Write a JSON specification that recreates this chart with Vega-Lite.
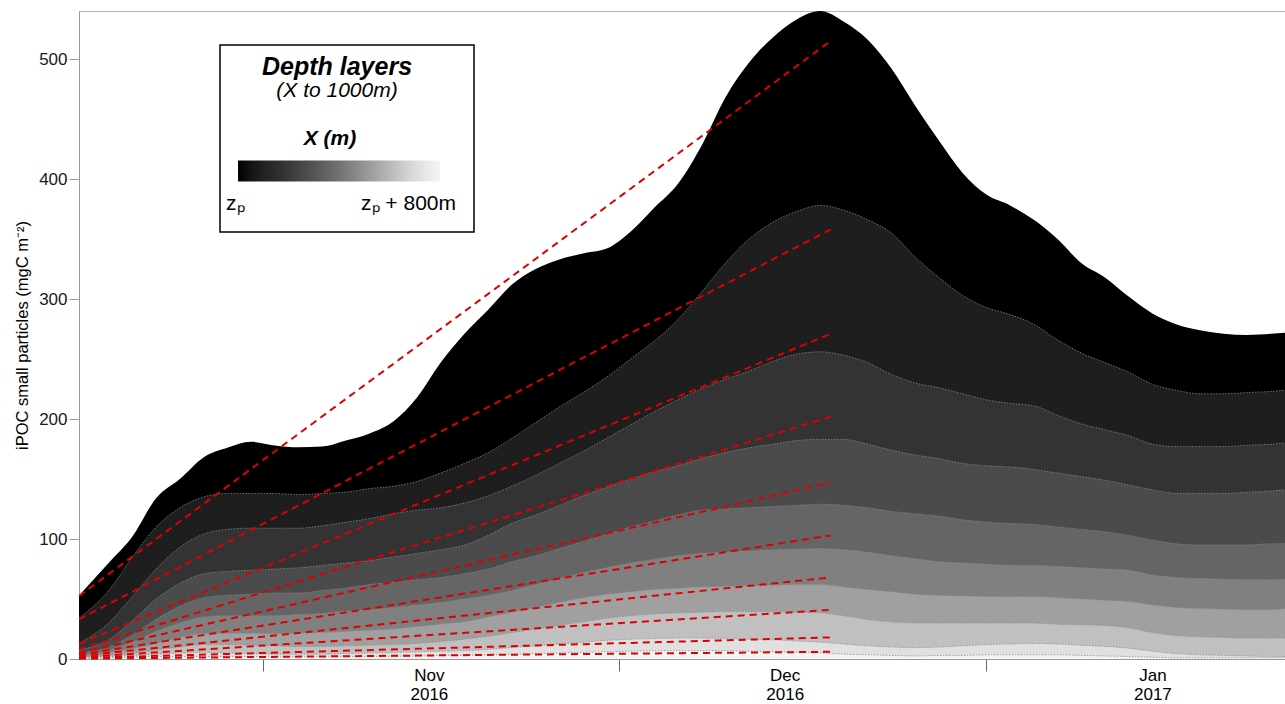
{
"$schema": "https://vega.github.io/schema/vega-lite/v6.json",
"width": 1212, "height": 648,
"autosize": {"type": "none"},
"padding": {"left": 79, "top": 11, "right": 0, "bottom": 45},
"background": "white",
"title": {"text": "Depth layers", "subtitle": "(X to 1000m)", "frame": "group", "anchor": "start", "align": "center", "dx": 258, "dy": 90, "offset": 0, "font": "Liberation Sans", "fontSize": 25, "fontStyle": "italic", "fontWeight": "bold", "color": "black", "subtitleFont": "Liberation Sans", "subtitleFontSize": 21, "subtitleFontStyle": "italic", "subtitleColor": "black", "subtitlePadding": 0},
"config": {"view": {"stroke": "#b5b5b5"}, "axis": {"grid": false, "labelFont": "Liberation Sans", "titleFont": "Liberation Sans"}, "legend": {"labelFont": "Liberation Sans", "titleFont": "Liberation Sans"}},
"datasets": {
"fits": [
{"t":"2016/10/16 12:00","r":1,"v":52.5},{"t":"2016/12/18 21:00","r":1,"v":515},
{"t":"2016/10/16 12:00","r":2,"v":33},{"t":"2016/12/18 21:00","r":2,"v":358},
{"t":"2016/10/16 12:00","r":3,"v":12.8},{"t":"2016/12/18 21:00","r":3,"v":271},
{"t":"2016/10/16 12:00","r":4,"v":8},{"t":"2016/12/18 21:00","r":4,"v":202},
{"t":"2016/10/16 12:00","r":5,"v":5},{"t":"2016/12/18 21:00","r":5,"v":147},
{"t":"2016/10/16 12:00","r":6,"v":3.5},{"t":"2016/12/18 21:00","r":6,"v":103},
{"t":"2016/10/16 12:00","r":7,"v":2.5},{"t":"2016/12/18 21:00","r":7,"v":68},
{"t":"2016/10/16 12:00","r":8,"v":1.5},{"t":"2016/12/18 21:00","r":8,"v":41},
{"t":"2016/10/16 12:00","r":9,"v":0.8},{"t":"2016/12/18 21:00","r":9,"v":18},
{"t":"2016/10/16 12:00","r":10,"v":0.3},{"t":"2016/12/18 21:00","r":10,"v":6}
],
"layers": [
{"t":"2016/10/16 12:00","z":0,"v":53},{"t":"2016/10/19","z":0,"v":80},{"t":"2016/10/21","z":0,"v":102},{"t":"2016/10/23","z":0,"v":134},{"t":"2016/10/25","z":0,"v":150},{"t":"2016/10/27","z":0,"v":168},{"t":"2016/10/29","z":0,"v":176},{"t":"2016/10/31","z":0,"v":181},{"t":"2016/11/02","z":0,"v":178},{"t":"2016/11/04","z":0,"v":176.5},{"t":"2016/11/06","z":0,"v":177},{"t":"2016/11/08","z":0,"v":182},{"t":"2016/11/10","z":0,"v":188},{"t":"2016/11/12","z":0,"v":198},{"t":"2016/11/14","z":0,"v":218},{"t":"2016/11/16","z":0,"v":247},{"t":"2016/11/18","z":0,"v":271},{"t":"2016/11/20","z":0,"v":291},{"t":"2016/11/22","z":0,"v":312},{"t":"2016/11/24","z":0,"v":325},{"t":"2016/11/26","z":0,"v":333},{"t":"2016/11/28","z":0,"v":338},{"t":"2016/11/30","z":0,"v":342},{"t":"2016/12/02","z":0,"v":356},{"t":"2016/12/04","z":0,"v":376},{"t":"2016/12/06","z":0,"v":396},{"t":"2016/12/08","z":0,"v":428},{"t":"2016/12/10","z":0,"v":468},{"t":"2016/12/12","z":0,"v":497},{"t":"2016/12/14","z":0,"v":518},{"t":"2016/12/16","z":0,"v":533},{"t":"2016/12/18","z":0,"v":540},{"t":"2016/12/20","z":0,"v":531},{"t":"2016/12/22","z":0,"v":516},{"t":"2016/12/24","z":0,"v":492},{"t":"2016/12/26","z":0,"v":461},{"t":"2016/12/28","z":0,"v":432},{"t":"2016/12/30","z":0,"v":405},{"t":"2017/01/01","z":0,"v":387},{"t":"2017/01/03","z":0,"v":378},{"t":"2017/01/05","z":0,"v":366},{"t":"2017/01/07","z":0,"v":350},{"t":"2017/01/09","z":0,"v":330},{"t":"2017/01/11","z":0,"v":318},{"t":"2017/01/13","z":0,"v":302},{"t":"2017/01/15","z":0,"v":288},{"t":"2017/01/17","z":0,"v":279},{"t":"2017/01/19","z":0,"v":274},{"t":"2017/01/21","z":0,"v":271},{"t":"2017/01/23","z":0,"v":270},{"t":"2017/01/25","z":0,"v":271},{"t":"2017/01/26 05:00","z":0,"v":272},
{"t":"2016/10/16 12:00","z":89,"v":34},{"t":"2016/10/19","z":89,"v":57},{"t":"2016/10/21","z":89,"v":85},{"t":"2016/10/23","z":89,"v":110},{"t":"2016/10/25","z":89,"v":126},{"t":"2016/10/27","z":89,"v":135},{"t":"2016/10/29","z":89,"v":138},{"t":"2016/10/31","z":89,"v":138},{"t":"2016/11/02","z":89,"v":138},{"t":"2016/11/04","z":89,"v":137},{"t":"2016/11/06","z":89,"v":138},{"t":"2016/11/08","z":89,"v":139},{"t":"2016/11/10","z":89,"v":142},{"t":"2016/11/12","z":89,"v":144},{"t":"2016/11/14","z":89,"v":148},{"t":"2016/11/16","z":89,"v":155},{"t":"2016/11/18","z":89,"v":163},{"t":"2016/11/20","z":89,"v":172},{"t":"2016/11/22","z":89,"v":184},{"t":"2016/11/24","z":89,"v":197},{"t":"2016/11/26","z":89,"v":210},{"t":"2016/11/28","z":89,"v":222},{"t":"2016/11/30","z":89,"v":235},{"t":"2016/12/02","z":89,"v":250},{"t":"2016/12/04","z":89,"v":265},{"t":"2016/12/06","z":89,"v":283},{"t":"2016/12/08","z":89,"v":306},{"t":"2016/12/10","z":89,"v":330},{"t":"2016/12/12","z":89,"v":350},{"t":"2016/12/14","z":89,"v":364},{"t":"2016/12/16","z":89,"v":373},{"t":"2016/12/18","z":89,"v":378},{"t":"2016/12/20","z":89,"v":374},{"t":"2016/12/22","z":89,"v":366},{"t":"2016/12/24","z":89,"v":355},{"t":"2016/12/26","z":89,"v":335},{"t":"2016/12/28","z":89,"v":318},{"t":"2016/12/30","z":89,"v":303},{"t":"2017/01/01","z":89,"v":293},{"t":"2017/01/03","z":89,"v":287},{"t":"2017/01/05","z":89,"v":279},{"t":"2017/01/07","z":89,"v":266},{"t":"2017/01/09","z":89,"v":255},{"t":"2017/01/11","z":89,"v":247},{"t":"2017/01/13","z":89,"v":239},{"t":"2017/01/15","z":89,"v":229},{"t":"2017/01/17","z":89,"v":224},{"t":"2017/01/19","z":89,"v":221},{"t":"2017/01/21","z":89,"v":221},{"t":"2017/01/23","z":89,"v":222},{"t":"2017/01/25","z":89,"v":223},{"t":"2017/01/26 05:00","z":89,"v":224},
{"t":"2016/10/16 12:00","z":178,"v":13},{"t":"2016/10/19","z":178,"v":30},{"t":"2016/10/21","z":178,"v":52},{"t":"2016/10/23","z":178,"v":75},{"t":"2016/10/25","z":178,"v":93},{"t":"2016/10/27","z":178,"v":104},{"t":"2016/10/29","z":178,"v":108},{"t":"2016/10/31","z":178,"v":109},{"t":"2016/11/02","z":178,"v":109},{"t":"2016/11/04","z":178,"v":109},{"t":"2016/11/06","z":178,"v":111},{"t":"2016/11/08","z":178,"v":114},{"t":"2016/11/10","z":178,"v":117},{"t":"2016/11/12","z":178,"v":121},{"t":"2016/11/14","z":178,"v":124},{"t":"2016/11/16","z":178,"v":126},{"t":"2016/11/18","z":178,"v":130},{"t":"2016/11/20","z":178,"v":136},{"t":"2016/11/22","z":178,"v":144},{"t":"2016/11/24","z":178,"v":153},{"t":"2016/11/26","z":178,"v":163},{"t":"2016/11/28","z":178,"v":173},{"t":"2016/11/30","z":178,"v":184},{"t":"2016/12/02","z":178,"v":195},{"t":"2016/12/04","z":178,"v":206},{"t":"2016/12/06","z":178,"v":216},{"t":"2016/12/08","z":178,"v":225},{"t":"2016/12/10","z":178,"v":233},{"t":"2016/12/12","z":178,"v":240},{"t":"2016/12/14","z":178,"v":248},{"t":"2016/12/16","z":178,"v":254},{"t":"2016/12/18","z":178,"v":256},{"t":"2016/12/20","z":178,"v":253},{"t":"2016/12/22","z":178,"v":247},{"t":"2016/12/24","z":178,"v":237},{"t":"2016/12/26","z":178,"v":230},{"t":"2016/12/28","z":178,"v":226},{"t":"2016/12/30","z":178,"v":221},{"t":"2017/01/01","z":178,"v":216},{"t":"2017/01/03","z":178,"v":213},{"t":"2017/01/05","z":178,"v":211},{"t":"2017/01/07","z":178,"v":203},{"t":"2017/01/09","z":178,"v":196},{"t":"2017/01/11","z":178,"v":191},{"t":"2017/01/13","z":178,"v":186},{"t":"2017/01/15","z":178,"v":179},{"t":"2017/01/17","z":178,"v":177},{"t":"2017/01/19","z":178,"v":177},{"t":"2017/01/21","z":178,"v":177},{"t":"2017/01/23","z":178,"v":178},{"t":"2017/01/25","z":178,"v":179},{"t":"2017/01/26 05:00","z":178,"v":180},
{"t":"2016/10/16 12:00","z":267,"v":7.5},{"t":"2016/10/19","z":267,"v":16},{"t":"2016/10/21","z":267,"v":32},{"t":"2016/10/23","z":267,"v":50},{"t":"2016/10/25","z":267,"v":63},{"t":"2016/10/27","z":267,"v":71},{"t":"2016/10/29","z":267,"v":73},{"t":"2016/10/31","z":267,"v":74},{"t":"2016/11/02","z":267,"v":75},{"t":"2016/11/04","z":267,"v":76},{"t":"2016/11/06","z":267,"v":78},{"t":"2016/11/08","z":267,"v":80},{"t":"2016/11/10","z":267,"v":82},{"t":"2016/11/12","z":267,"v":85},{"t":"2016/11/14","z":267,"v":88},{"t":"2016/11/16","z":267,"v":91},{"t":"2016/11/18","z":267,"v":95},{"t":"2016/11/20","z":267,"v":103},{"t":"2016/11/22","z":267,"v":113},{"t":"2016/11/24","z":267,"v":120},{"t":"2016/11/26","z":267,"v":128},{"t":"2016/11/28","z":267,"v":136},{"t":"2016/11/30","z":267,"v":143},{"t":"2016/12/02","z":267,"v":150},{"t":"2016/12/04","z":267,"v":156},{"t":"2016/12/06","z":267,"v":161},{"t":"2016/12/08","z":267,"v":167},{"t":"2016/12/10","z":267,"v":172},{"t":"2016/12/12","z":267,"v":176},{"t":"2016/12/14","z":267,"v":179},{"t":"2016/12/16","z":267,"v":182},{"t":"2016/12/18","z":267,"v":183},{"t":"2016/12/20","z":267,"v":183},{"t":"2016/12/22","z":267,"v":179},{"t":"2016/12/24","z":267,"v":174},{"t":"2016/12/26","z":267,"v":170},{"t":"2016/12/28","z":267,"v":167},{"t":"2016/12/30","z":267,"v":163},{"t":"2017/01/01","z":267,"v":161},{"t":"2017/01/03","z":267,"v":160},{"t":"2017/01/05","z":267,"v":158},{"t":"2017/01/07","z":267,"v":155},{"t":"2017/01/09","z":267,"v":152},{"t":"2017/01/11","z":267,"v":149},{"t":"2017/01/13","z":267,"v":145},{"t":"2017/01/15","z":267,"v":141},{"t":"2017/01/17","z":267,"v":138},{"t":"2017/01/19","z":267,"v":138},{"t":"2017/01/21","z":267,"v":138},{"t":"2017/01/23","z":267,"v":139},{"t":"2017/01/25","z":267,"v":140},{"t":"2017/01/26 05:00","z":267,"v":141},
{"t":"2016/10/16 12:00","z":356,"v":5},{"t":"2016/10/19","z":356,"v":10},{"t":"2016/10/21","z":356,"v":20},{"t":"2016/10/23","z":356,"v":33},{"t":"2016/10/25","z":356,"v":44},{"t":"2016/10/27","z":356,"v":51},{"t":"2016/10/29","z":356,"v":53},{"t":"2016/10/31","z":356,"v":54},{"t":"2016/11/02","z":356,"v":55},{"t":"2016/11/04","z":356,"v":55},{"t":"2016/11/06","z":356,"v":57},{"t":"2016/11/08","z":356,"v":59},{"t":"2016/11/10","z":356,"v":62},{"t":"2016/11/12","z":356,"v":64},{"t":"2016/11/14","z":356,"v":66},{"t":"2016/11/16","z":356,"v":68},{"t":"2016/11/18","z":356,"v":71},{"t":"2016/11/20","z":356,"v":75},{"t":"2016/11/22","z":356,"v":81},{"t":"2016/11/24","z":356,"v":86},{"t":"2016/11/26","z":356,"v":92},{"t":"2016/11/28","z":356,"v":98},{"t":"2016/11/30","z":356,"v":104},{"t":"2016/12/02","z":356,"v":110},{"t":"2016/12/04","z":356,"v":115},{"t":"2016/12/06","z":356,"v":120},{"t":"2016/12/08","z":356,"v":124},{"t":"2016/12/10","z":356,"v":125},{"t":"2016/12/12","z":356,"v":126},{"t":"2016/12/14","z":356,"v":127},{"t":"2016/12/16","z":356,"v":128},{"t":"2016/12/18","z":356,"v":129},{"t":"2016/12/20","z":356,"v":128},{"t":"2016/12/22","z":356,"v":126},{"t":"2016/12/24","z":356,"v":123},{"t":"2016/12/26","z":356,"v":121},{"t":"2016/12/28","z":356,"v":119},{"t":"2016/12/30","z":356,"v":116},{"t":"2017/01/01","z":356,"v":114},{"t":"2017/01/03","z":356,"v":113},{"t":"2017/01/05","z":356,"v":112},{"t":"2017/01/07","z":356,"v":110},{"t":"2017/01/09","z":356,"v":108},{"t":"2017/01/11","z":356,"v":106},{"t":"2017/01/13","z":356,"v":103},{"t":"2017/01/15","z":356,"v":99},{"t":"2017/01/17","z":356,"v":96},{"t":"2017/01/19","z":356,"v":95},{"t":"2017/01/21","z":356,"v":95},{"t":"2017/01/23","z":356,"v":95},{"t":"2017/01/25","z":356,"v":96},{"t":"2017/01/26 05:00","z":356,"v":96},
{"t":"2016/10/16 12:00","z":444,"v":3.6},{"t":"2016/10/19","z":444,"v":7.5},{"t":"2016/10/21","z":444,"v":14},{"t":"2016/10/23","z":444,"v":23},{"t":"2016/10/25","z":444,"v":30},{"t":"2016/10/27","z":444,"v":35},{"t":"2016/10/29","z":444,"v":36},{"t":"2016/10/31","z":444,"v":36},{"t":"2016/11/02","z":444,"v":36},{"t":"2016/11/04","z":444,"v":37},{"t":"2016/11/06","z":444,"v":38},{"t":"2016/11/08","z":444,"v":40},{"t":"2016/11/10","z":444,"v":41},{"t":"2016/11/12","z":444,"v":43},{"t":"2016/11/14","z":444,"v":45},{"t":"2016/11/16","z":444,"v":47},{"t":"2016/11/18","z":444,"v":50},{"t":"2016/11/20","z":444,"v":53},{"t":"2016/11/22","z":444,"v":57},{"t":"2016/11/24","z":444,"v":62},{"t":"2016/11/26","z":444,"v":67},{"t":"2016/11/28","z":444,"v":72},{"t":"2016/11/30","z":444,"v":76},{"t":"2016/12/02","z":444,"v":80},{"t":"2016/12/04","z":444,"v":83},{"t":"2016/12/06","z":444,"v":86},{"t":"2016/12/08","z":444,"v":88},{"t":"2016/12/10","z":444,"v":89},{"t":"2016/12/12","z":444,"v":90},{"t":"2016/12/14","z":444,"v":91},{"t":"2016/12/16","z":444,"v":91.5},{"t":"2016/12/18","z":444,"v":92},{"t":"2016/12/20","z":444,"v":91},{"t":"2016/12/22","z":444,"v":89},{"t":"2016/12/24","z":444,"v":86},{"t":"2016/12/26","z":444,"v":83.5},{"t":"2016/12/28","z":444,"v":81},{"t":"2016/12/30","z":444,"v":80},{"t":"2017/01/01","z":444,"v":79},{"t":"2017/01/03","z":444,"v":78},{"t":"2017/01/05","z":444,"v":78},{"t":"2017/01/07","z":444,"v":77},{"t":"2017/01/09","z":444,"v":76},{"t":"2017/01/11","z":444,"v":75},{"t":"2017/01/13","z":444,"v":74},{"t":"2017/01/15","z":444,"v":70},{"t":"2017/01/17","z":444,"v":68},{"t":"2017/01/19","z":444,"v":67},{"t":"2017/01/21","z":444,"v":66.5},{"t":"2017/01/23","z":444,"v":66},{"t":"2017/01/25","z":444,"v":66},{"t":"2017/01/26 05:00","z":444,"v":66},
{"t":"2016/10/16 12:00","z":533,"v":2},{"t":"2016/10/19","z":533,"v":5},{"t":"2016/10/21","z":533,"v":8.5},{"t":"2016/10/23","z":533,"v":13},{"t":"2016/10/25","z":533,"v":18},{"t":"2016/10/27","z":533,"v":21},{"t":"2016/10/29","z":533,"v":21.5},{"t":"2016/10/31","z":533,"v":21.5},{"t":"2016/11/02","z":533,"v":21},{"t":"2016/11/04","z":533,"v":21.5},{"t":"2016/11/06","z":533,"v":22},{"t":"2016/11/08","z":533,"v":23},{"t":"2016/11/10","z":533,"v":24},{"t":"2016/11/12","z":533,"v":25},{"t":"2016/11/14","z":533,"v":27},{"t":"2016/11/16","z":533,"v":29},{"t":"2016/11/18","z":533,"v":31},{"t":"2016/11/20","z":533,"v":35},{"t":"2016/11/22","z":533,"v":39},{"t":"2016/11/24","z":533,"v":43},{"t":"2016/11/26","z":533,"v":47},{"t":"2016/11/28","z":533,"v":51},{"t":"2016/11/30","z":533,"v":54},{"t":"2016/12/02","z":533,"v":56},{"t":"2016/12/04","z":533,"v":58},{"t":"2016/12/06","z":533,"v":59},{"t":"2016/12/08","z":533,"v":60},{"t":"2016/12/10","z":533,"v":60.5},{"t":"2016/12/12","z":533,"v":61},{"t":"2016/12/14","z":533,"v":61.5},{"t":"2016/12/16","z":533,"v":62},{"t":"2016/12/18","z":533,"v":62},{"t":"2016/12/20","z":533,"v":60},{"t":"2016/12/22","z":533,"v":58},{"t":"2016/12/24","z":533,"v":56},{"t":"2016/12/26","z":533,"v":54},{"t":"2016/12/28","z":533,"v":53},{"t":"2016/12/30","z":533,"v":52.5},{"t":"2017/01/01","z":533,"v":52},{"t":"2017/01/03","z":533,"v":52},{"t":"2017/01/05","z":533,"v":52},{"t":"2017/01/07","z":533,"v":51},{"t":"2017/01/09","z":533,"v":50},{"t":"2017/01/11","z":533,"v":49},{"t":"2017/01/13","z":533,"v":48},{"t":"2017/01/15","z":533,"v":45},{"t":"2017/01/17","z":533,"v":43},{"t":"2017/01/19","z":533,"v":42},{"t":"2017/01/21","z":533,"v":41.5},{"t":"2017/01/23","z":533,"v":41},{"t":"2017/01/25","z":533,"v":41},{"t":"2017/01/26 05:00","z":533,"v":42},
{"t":"2016/10/16 12:00","z":622,"v":1.5},{"t":"2016/10/19","z":622,"v":3},{"t":"2016/10/21","z":622,"v":5},{"t":"2016/10/23","z":622,"v":7.5},{"t":"2016/10/25","z":622,"v":10},{"t":"2016/10/27","z":622,"v":12},{"t":"2016/10/29","z":622,"v":12},{"t":"2016/10/31","z":622,"v":11.5},{"t":"2016/11/02","z":622,"v":11},{"t":"2016/11/04","z":622,"v":10.5},{"t":"2016/11/06","z":622,"v":10.5},{"t":"2016/11/08","z":622,"v":11},{"t":"2016/11/10","z":622,"v":11.5},{"t":"2016/11/12","z":622,"v":12},{"t":"2016/11/14","z":622,"v":13},{"t":"2016/11/16","z":622,"v":14.5},{"t":"2016/11/18","z":622,"v":16.5},{"t":"2016/11/20","z":622,"v":19},{"t":"2016/11/22","z":622,"v":22},{"t":"2016/11/24","z":622,"v":25},{"t":"2016/11/26","z":622,"v":28},{"t":"2016/11/28","z":622,"v":31},{"t":"2016/11/30","z":622,"v":34},{"t":"2016/12/02","z":622,"v":36},{"t":"2016/12/04","z":622,"v":37.5},{"t":"2016/12/06","z":622,"v":38.5},{"t":"2016/12/08","z":622,"v":39},{"t":"2016/12/10","z":622,"v":39.5},{"t":"2016/12/12","z":622,"v":39.5},{"t":"2016/12/14","z":622,"v":39.5},{"t":"2016/12/16","z":622,"v":39},{"t":"2016/12/18","z":622,"v":38.5},{"t":"2016/12/20","z":622,"v":36},{"t":"2016/12/22","z":622,"v":33},{"t":"2016/12/24","z":622,"v":31},{"t":"2016/12/26","z":622,"v":30},{"t":"2016/12/28","z":622,"v":30},{"t":"2016/12/30","z":622,"v":30},{"t":"2017/01/01","z":622,"v":30},{"t":"2017/01/03","z":622,"v":30},{"t":"2017/01/05","z":622,"v":30},{"t":"2017/01/07","z":622,"v":29},{"t":"2017/01/09","z":622,"v":28.5},{"t":"2017/01/11","z":622,"v":28},{"t":"2017/01/13","z":622,"v":26},{"t":"2017/01/15","z":622,"v":22},{"t":"2017/01/17","z":622,"v":19.5},{"t":"2017/01/19","z":622,"v":18.5},{"t":"2017/01/21","z":622,"v":18},{"t":"2017/01/23","z":622,"v":17.5},{"t":"2017/01/25","z":622,"v":17.5},{"t":"2017/01/26 05:00","z":622,"v":17.5},
{"t":"2016/10/16 12:00","z":711,"v":1},{"t":"2016/10/19","z":711,"v":2},{"t":"2016/10/21","z":711,"v":3},{"t":"2016/10/23","z":711,"v":4},{"t":"2016/10/25","z":711,"v":5},{"t":"2016/10/27","z":711,"v":5.5},{"t":"2016/10/29","z":711,"v":5},{"t":"2016/10/31","z":711,"v":4.5},{"t":"2016/11/02","z":711,"v":4},{"t":"2016/11/04","z":711,"v":4},{"t":"2016/11/06","z":711,"v":4},{"t":"2016/11/08","z":711,"v":4.5},{"t":"2016/11/10","z":711,"v":5},{"t":"2016/11/12","z":711,"v":5.5},{"t":"2016/11/14","z":711,"v":6},{"t":"2016/11/16","z":711,"v":6.5},{"t":"2016/11/18","z":711,"v":7},{"t":"2016/11/20","z":711,"v":8},{"t":"2016/11/22","z":711,"v":9.5},{"t":"2016/11/24","z":711,"v":11},{"t":"2016/11/26","z":711,"v":12.5},{"t":"2016/11/28","z":711,"v":14},{"t":"2016/11/30","z":711,"v":15.5},{"t":"2016/12/02","z":711,"v":16.5},{"t":"2016/12/04","z":711,"v":17},{"t":"2016/12/06","z":711,"v":17.5},{"t":"2016/12/08","z":711,"v":17.5},{"t":"2016/12/10","z":711,"v":17},{"t":"2016/12/12","z":711,"v":16.5},{"t":"2016/12/14","z":711,"v":16},{"t":"2016/12/16","z":711,"v":15},{"t":"2016/12/18","z":711,"v":14},{"t":"2016/12/20","z":711,"v":12.5},{"t":"2016/12/22","z":711,"v":11},{"t":"2016/12/24","z":711,"v":10},{"t":"2016/12/26","z":711,"v":9.5},{"t":"2016/12/28","z":711,"v":10},{"t":"2016/12/30","z":711,"v":11},{"t":"2017/01/01","z":711,"v":12},{"t":"2017/01/03","z":711,"v":12.5},{"t":"2017/01/05","z":711,"v":13},{"t":"2017/01/07","z":711,"v":12.5},{"t":"2017/01/09","z":711,"v":11.5},{"t":"2017/01/11","z":711,"v":10.5},{"t":"2017/01/13","z":711,"v":9},{"t":"2017/01/15","z":711,"v":6.5},{"t":"2017/01/17","z":711,"v":4.5},{"t":"2017/01/19","z":711,"v":3.5},{"t":"2017/01/21","z":711,"v":3},{"t":"2017/01/23","z":711,"v":2.5},{"t":"2017/01/25","z":711,"v":2},{"t":"2017/01/26 05:00","z":711,"v":2},
{"t":"2016/10/16 12:00","z":800,"v":0.5},{"t":"2016/10/19","z":800,"v":1},{"t":"2016/10/21","z":800,"v":1.5},{"t":"2016/10/23","z":800,"v":2},{"t":"2016/10/25","z":800,"v":2},{"t":"2016/10/27","z":800,"v":2},{"t":"2016/10/29","z":800,"v":2},{"t":"2016/10/31","z":800,"v":2},{"t":"2016/11/02","z":800,"v":1.8},{"t":"2016/11/04","z":800,"v":1.8},{"t":"2016/11/06","z":800,"v":1.8},{"t":"2016/11/08","z":800,"v":2},{"t":"2016/11/10","z":800,"v":2},{"t":"2016/11/12","z":800,"v":2.2},{"t":"2016/11/14","z":800,"v":2.5},{"t":"2016/11/16","z":800,"v":2.8},{"t":"2016/11/18","z":800,"v":3},{"t":"2016/11/20","z":800,"v":3.5},{"t":"2016/11/22","z":800,"v":4},{"t":"2016/11/24","z":800,"v":4.5},{"t":"2016/11/26","z":800,"v":5},{"t":"2016/11/28","z":800,"v":5.5},{"t":"2016/11/30","z":800,"v":6},{"t":"2016/12/02","z":800,"v":6.5},{"t":"2016/12/04","z":800,"v":7},{"t":"2016/12/06","z":800,"v":7},{"t":"2016/12/08","z":800,"v":7},{"t":"2016/12/10","z":800,"v":7},{"t":"2016/12/12","z":800,"v":6.5},{"t":"2016/12/14","z":800,"v":6},{"t":"2016/12/16","z":800,"v":5.5},{"t":"2016/12/18","z":800,"v":5},{"t":"2016/12/20","z":800,"v":4},{"t":"2016/12/22","z":800,"v":3.5},{"t":"2016/12/24","z":800,"v":3},{"t":"2016/12/26","z":800,"v":2.5},{"t":"2016/12/28","z":800,"v":3},{"t":"2016/12/30","z":800,"v":3},{"t":"2017/01/01","z":800,"v":3.5},{"t":"2017/01/03","z":800,"v":3.5},{"t":"2017/01/05","z":800,"v":3.5},{"t":"2017/01/07","z":800,"v":3.5},{"t":"2017/01/09","z":800,"v":3},{"t":"2017/01/11","z":800,"v":2.5},{"t":"2017/01/13","z":800,"v":2},{"t":"2017/01/15","z":800,"v":1.5},{"t":"2017/01/17","z":800,"v":1},{"t":"2017/01/19","z":800,"v":1},{"t":"2017/01/21","z":800,"v":1},{"t":"2017/01/23","z":800,"v":1},{"t":"2017/01/25","z":800,"v":1},{"t":"2017/01/26 05:00","z":800,"v":1}
]
},
"layer": [
{
"data": {"name": "layers"},
"mark": {"type": "area", "interpolate": "monotone"},
"encoding": {
"x": {"field": "t", "type": "temporal",
"scale": {"domain": [{"year": 2016, "month": 10, "date": 16, "hours": 12}, {"year": 2017, "month": 1, "date": 26, "hours": 16, "minutes": 30}], "nice": false},
"axis": {"orient": "bottom", "title": null, "labels": false, "values": [{"year": 2016, "month": 11, "date": 1}, {"year": 2016, "month": 12, "date": 1}, {"year": 2017, "month": 1, "date": 1}], "tickSize": 12, "tickColor": "#666666", "domainColor": "#9a9a9a"}},
"y": {"field": "v", "type": "quantitative", "stack": null,
"scale": {"domain": [0, 540], "nice": false},
"axis": {"values": [0, 100, 200, 300, 400, 500], "tickSize": 10, "tickColor": "#9a9a9a", "domainColor": "#9a9a9a", "labelFontSize": 17, "labelColor": "#1a1a1a", "labelPadding": 2, "title": "iPOC small particles (mgC m⁻²)", "titleFontSize": 16.5, "titleFontWeight": "normal", "titleColor": "black", "titlePadding": 8}},
"color": {"field": "z", "type": "quantitative",
"scale": {"domain": [0, 89, 178, 267, 356, 444, 533, 622, 711, 800], "range": ["#000000", "#1e1e1e", "#333333", "#4b4b4b", "#656565", "#808080", "#a0a0a0", "#c0c0c0", "#e0e0e0", "#f4f4f4"]},
"legend": {"orient": "none", "legendX": 141, "legendY": 34, "direction": "horizontal",
"title": ["\u200b", "X (m)"],
"titleFontSize": 21, "titleFontStyle": "italic", "titleFontWeight": "bold", "titleLineHeight": 64.5, "titleColor": "black", "titleAlign": "center", "titleAnchor": "middle", "titlePadding": 12,
"gradientLength": 202, "gradientThickness": 21, "gradientStrokeWidth": 0,
"values": [0, 800], "labelExpr": "datum.value == 0 ? 'zₚ' : 'zₚ + 800m'", "labelFontSize": 21, "labelColor": "black", "labelOffset": 11,
"padding": 18, "strokeColor": "black",
"encode": {"legend": {"update": {"strokeWidth": {"value": 1.5}}}, "labels": {"update": {"dx": {"signal": "datum.value == 0 ? -12 : 16"}}}}}},
"detail": {"field": "z", "type": "nominal"}
}
},
{
"data": {"name": "layers"},
"transform": [{"filter": "datum.z > 0"}],
"mark": {"type": "line", "interpolate": "monotone", "stroke": "#8a8a8a", "strokeWidth": 0.8, "strokeDash": [1.5, 1.5]},
"encoding": {
"x": {"field": "t", "type": "temporal", "axis": null},
"y": {"field": "v", "type": "quantitative"},
"detail": {"field": "z", "type": "nominal"}
}
},
{
"data": {"name": "fits"},
"mark": {"type": "line", "color": "#dd0000", "strokeWidth": 2, "strokeDash": [7, 5]},
"encoding": {
"x": {"field": "t", "type": "temporal",
"axis": {"orient": "bottom", "title": null, "ticks": false, "domain": false, "values": [{"year": 2016, "month": 11, "date": 15}, {"year": 2016, "month": 12, "date": 15}, {"year": 2017, "month": 1, "date": 15}], "labelExpr": "[timeFormat(datum.value, '%b'), timeFormat(datum.value, '%Y')]", "labelFontSize": 17, "labelLineHeight": 19, "labelPadding": 8, "labelColor": "black", "labelOverlap": false}},
"y": {"field": "v", "type": "quantitative"},
"detail": {"field": "r", "type": "nominal"}
}
}
],
"resolve": {"axis": {"x": "independent"}}
}
